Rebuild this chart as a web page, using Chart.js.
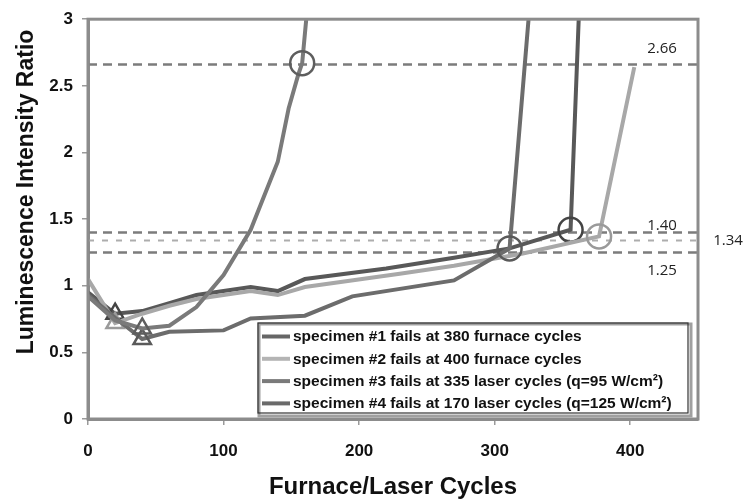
<!DOCTYPE html>
<html><head><meta charset="utf-8">
<script src="https://cdn.jsdelivr.net/npm/chart.js@4.4.1/dist/chart.umd.min.js"></script>
<style>html,body{margin:0;padding:0;background:#fff}</style>
</head><body>
<canvas id="c" width="743" height="500"></canvas>
<script>
// ---- data ----
const cycles1 = [0,20,40,60,80,100,120,140,160,220,270,311,356,362];
const ratio1  = [0.95,0.79,0.81,0.87,0.93,0.96,0.99,0.96,1.05,1.13,1.21,1.28,1.42,3.0];
const cycles2 = [0,20,40,60,80,100,120,140,160,230,270,320,377,403];
const ratio2  = [1.05,0.72,0.79,0.85,0.90,0.93,0.96,0.93,0.99,1.09,1.15,1.24,1.37,2.64];
const cycles3 = [0,20,40,60,100,120,160,195,270,311,325];
const ratio3  = [0.93,0.76,0.60,0.655,0.665,0.755,0.775,0.92,1.04,1.28,3.0];
const cycles4 = [0,20,40,60,80,100,120,140,148,155,158,161];
const ratio4  = [0.92,0.74,0.68,0.70,0.84,1.08,1.42,1.93,2.33,2.58,2.67,3.0];
const seriesNames = [
  'specimen #1 fails at 380 furnace cycles',
  'specimen #2 fails at 400 furnace cycles',
  'specimen #3 fails at 335 laser cycles (q=95 W/cm\u00B2)',
  'specimen #4 fails at 170 laser cycles (q=125 W/cm\u00B2)'
];
const minIndex  = [1,1,2,2];      // triangle markers (minimum ratio)
const failIndex = [12,12,9,10];   // circle markers (failure ratio)
const refValues = [2.66,1.40,1.34,1.25];
const refLabels = ['2.66','1.40','1.34','1.25'];
const xTickValues = [0,100,200,300,400];
const yTickValues = [0,0.5,1,1.5,2,2.5,3];

// ---- styles ----
const FONT = "'Liberation Sans', Arial, sans-serif";
const lineColors = ['#585858','#a8a8a8','#6c6c6c','#7a7a7a'];
const markerColors = ['#444444','#9a9a9a','#5a5a5a','#5e5e5e'];
const legendColors = ['#666666','#b4b4b4','#7a7a7a','#6a6a6a'];
const cyc = [cycles1,cycles2,cycles3,cycles4];
const rat = [ratio1,ratio2,ratio3,ratio4];

const datasets = cyc.map((cx,i)=>({
  label: seriesNames[i],
  data: cx.map((x,j)=>({x:x,y:rat[i][j]})),
  borderColor: lineColors[i],
  borderWidth: 4,
  tension: 0,
  fill: false,
  pointStyle: c => c.dataIndex===minIndex[i] ? 'triangle' : 'circle',
  pointRadius: c => c.dataIndex===minIndex[i] ? 10 : (c.dataIndex===failIndex[i] ? 12 : 0),
  pointBorderWidth: 2.5,
  pointBorderColor: markerColors[i],
  pointBackgroundColor: 'rgba(255,255,255,0)',
  pointHoverRadius: 0,
  order: 4-i
}));

const decor = {
  id:'decor',
  beforeDatasetsDraw(chart){
    const {ctx, chartArea:a, scales:{y}} = chart;
    ctx.save();
    refValues.forEach((v,i)=>{
      const py = y.getPixelForValue(v);
      ctx.beginPath();
      if (refLabels[i]==='1.34'){ctx.strokeStyle='#adadad';ctx.lineWidth=2;ctx.setLineDash([6,8]);}
      else {ctx.strokeStyle='#7c7c7c';ctx.lineWidth=2.5;ctx.setLineDash([9,6]);}
      ctx.moveTo(a.left,py);ctx.lineTo(a.right,py);ctx.stroke();
    });
    ctx.restore();
  },
  afterDatasetsDraw(chart){
    const {ctx, chartArea:a, scales:{y}} = chart;
    ctx.save();
    // frame
    ctx.strokeStyle='#8c8c8c';ctx.lineWidth=3;ctx.setLineDash([]);
    ctx.strokeRect(a.left,a.top,a.right-a.left,a.bottom-a.top);
    // reference labels
    ctx.fillStyle='#222';ctx.font="15px 'Open Sans', 'Liberation Sans', sans-serif";
    ctx.textAlign='center';ctx.textBaseline='middle';
    refValues.forEach((v,i)=>{
      const py=y.getPixelForValue(v);
      let px=a.right-36, dy=-16;
      if(refLabels[i]==='1.40') dy=-7;
      if(refLabels[i]==='1.25') dy=18;
      if(refLabels[i]==='1.34'){px=a.right+30;dy=0;}
      ctx.fillText(refLabels[i],px,py+dy);
    });
    // legend box
    const lx=258, ly=323, lw=430, lh=90;
    ctx.fillStyle='#fff';ctx.fillRect(lx,ly,lw,lh);
    ctx.strokeStyle='#a0a0a0';ctx.lineWidth=3;ctx.strokeRect(lx+1,ly+1,lw+2,lh+2);
    ctx.strokeStyle='#333';ctx.lineWidth=1.2;ctx.strokeRect(lx,ly,lw,lh);
    ctx.font="bold 15.5px "+FONT;ctx.textAlign='left';ctx.textBaseline='middle';
    seriesNames.forEach((n,i)=>{
      const ry=ly+13.5+i*22.3;
      ctx.strokeStyle=legendColors[i];ctx.lineWidth=4;
      ctx.beginPath();ctx.moveTo(lx+4,ry);ctx.lineTo(lx+32,ry);ctx.stroke();
      ctx.fillStyle='#111';ctx.fillText(n,lx+35,ry+0.5);
    });
    // axis titles
    ctx.fillStyle='#111';ctx.font="bold 24px "+FONT;ctx.textAlign='center';ctx.textBaseline='middle';
    ctx.fillText('Furnace/Laser Cycles',(a.left+a.right)/2,487);
    ctx.font="bold 23px "+FONT;
    ctx.translate(27,192);ctx.rotate(-Math.PI/2);
    ctx.fillText('Luminescence Intensity Ratio',0,0);
    ctx.restore();
  }
};

new Chart(document.getElementById('c'),{
  type:'line',
  data:{datasets},
  options:{
    responsive:false, animation:false, devicePixelRatio:1,
    layout:{padding:{left:0,right:45,top:13,bottom:0}},
    plugins:{legend:{display:false},tooltip:{enabled:false}},
    scales:{
      x:{type:'linear',min:0,max:450,
        afterBuildTicks(s){s.ticks=xTickValues.map(v=>({value:v}));},
        ticks:{font:{family:FONT,size:17,weight:'bold'},color:'#111',padding:16,maxRotation:0,callback:v=>String(v)},
        grid:{drawOnChartArea:false,tickLength:6,color:'#9a9a9a',lineWidth:1.5},
        border:{color:'#8c8c8c',width:3},
        afterFit(s){s.height=81;}},
      y:{type:'linear',min:0,max:3,
        afterBuildTicks(s){s.ticks=yTickValues.map(v=>({value:v}));},
        ticks:{font:{family:FONT,size:17,weight:'bold'},color:'#111',padding:9,callback:v=>String(v)},
        grid:{drawOnChartArea:false,tickLength:6,color:'#9a9a9a',lineWidth:1.5},
        border:{color:'#8c8c8c',width:3},
        afterFit(s){s.width=88;}}
    }
  },
  plugins:[decor]
});
</script>
</body></html>
